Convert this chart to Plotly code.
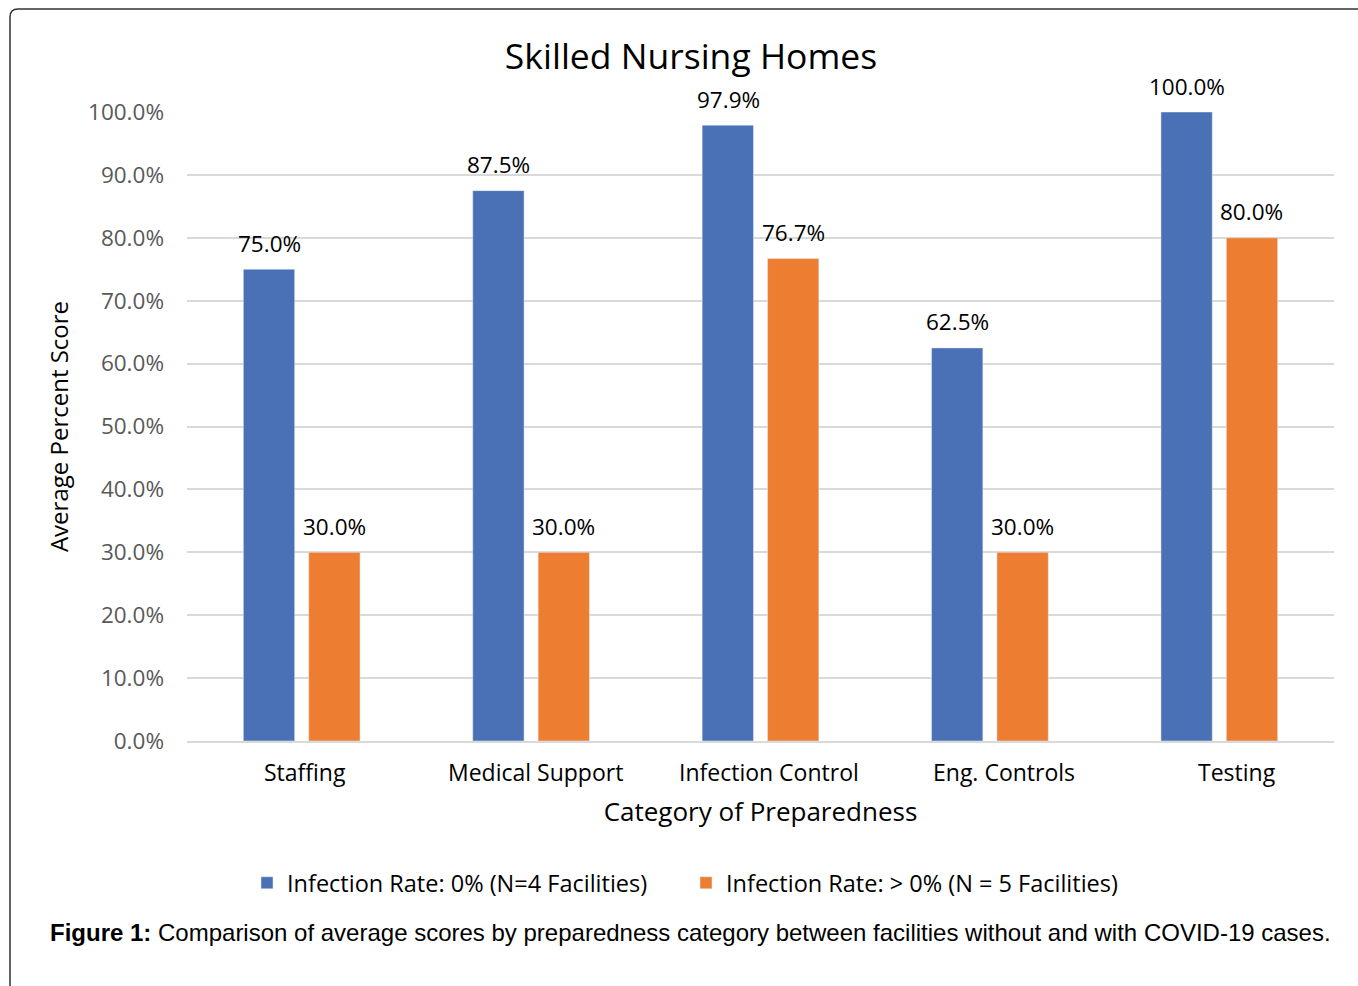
import plotly.graph_objects as go

categories = ["Staffing", "Medical Support", "Infection Control", "Eng. Controls", "Testing"]
zero_rate = [0.75, 0.875, 0.979, 0.625, 1.0]
pos_rate = [0.30, 0.30, 0.767, 0.30, 0.80]
series_names = ["Infection Rate: 0% (N=4 Facilities)", "Infection Rate: > 0% (N = 5 Facilities)"]
title_text = "Skilled Nursing Homes"
x_title = "Category of Preparedness"
y_title = "Average Percent Score"
caption = "<b>Figure 1:</b> Comparison of average scores by preparedness category between facilities without and with COVID-19 cases."

W, H = 1358, 986
L, R, T, B = 187, 24, 112, 245
pw, ph = W - L - R, H - T - B

def px(x):
    return (x - L) / pw

def py(y):
    return (H - B - y) / ph

font = "Open Sans, Lato, sans-serif"
colors = ["#4a71b6", "#ed7d31"]
offsets = [-32.5, 32.5]
label_shift = [3.5, 4.5, 8.5, 14, 17.5]

fig = go.Figure()
for name, vals, col, off in zip(series_names, [zero_rate, pos_rate], colors, offsets):
    fig.add_trace(go.Bar(x=categories, y=vals, name=name, marker_color=col))
    for c, v in zip(categories, vals):
        fig.add_annotation(x=c, y=v, text=f"{v*100:.1f}%", showarrow=False,
                           xshift=off, yshift=26, yanchor="middle", xanchor="center",
                           font=dict(family=font, size=22.5, color="#000"))

# category labels
for c, s in zip(categories, label_shift):
    fig.add_annotation(x=c, y=py(772), yref="paper", text=c, showarrow=False,
                       xshift=s, yanchor="middle", xanchor="center",
                       font=dict(family=font, size=23, color="#000"))

fig.update_layout(
    width=W, height=H,
    margin=dict(l=L, r=R, t=T, b=B, autoexpand=False),
    paper_bgcolor="white", plot_bgcolor="white",
    barmode="group", bargap=0.43, bargroupgap=0.215,
    title=dict(text=title_text, x=691 / W, xref="container", xanchor="center",
               y=1 - 57 / H, yref="container", yanchor="middle",
               font=dict(family=font, size=35.5, color="#000")),
    legend=dict(orientation="h", x=px(247), xanchor="left", y=py(883), yanchor="middle",
                font=dict(family=font, size=23.5, color="#000"),
                entrywidth=394, entrywidthmode="pixels",
                traceorder="normal"),
    showlegend=True,
)
fig.update_yaxes(range=[0, 1], dtick=0.1, tickformat=".1%", showgrid=True,
                 gridcolor="#d9d9d9", gridwidth=1.5, zeroline=False,
                 tickfont=dict(family=font, size=22.5, color="#595959"),
                 ticklabelstandoff=22, automargin=False,
                 title=dict(text=y_title, standoff=12,
                            font=dict(family=font, size=24, color="#000")))
fig.update_xaxes(showline=True, linecolor="#d9d9d9", linewidth=2,
                 showticklabels=False, automargin=False,
                 title=dict(text=x_title, standoff=61,
                            font=dict(family=font, size=26, color="#000")))

fig.add_annotation(text=caption, xref="paper", yref="paper", x=px(48), y=py(932),
                   xanchor="left", yanchor="middle", showarrow=False,
                   font=dict(family="Liberation Sans, Arial, sans-serif", size=24, color="#000"))

# border frame with rounded top-left corner
r = 8
xa, ya = px(10), py(9)
xb, yb = px(1380), py(1010)
path = (f"M {xa},{yb} L {xa},{py(9 + r)} Q {xa},{ya} {px(10 + r)},{ya} "
        f"L {xb},{ya}")
fig.add_shape(type="path", xref="paper", yref="paper", path=path,
              line=dict(color="#333", width=1.5), layer="below")

fig.write_html("out.html", config={"displayModeBar": False},
               post_script="document.body.style.margin='0';document.body.style.overflow='hidden';")
